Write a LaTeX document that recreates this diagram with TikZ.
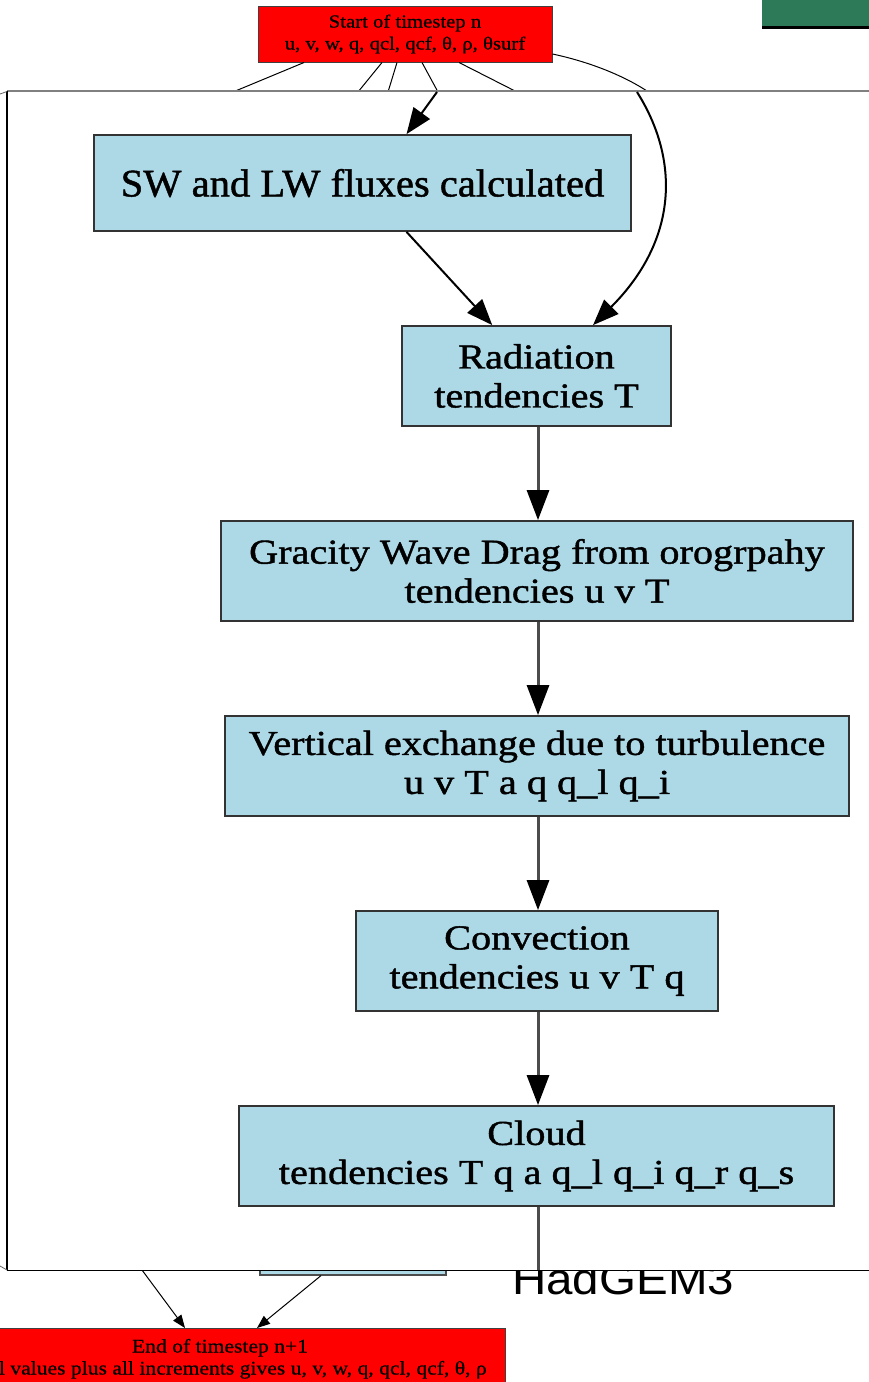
\documentclass[tikz,border=0pt]{standalone}
\usepackage{fontspec}
\setmainfont{Liberation Serif}
\newfontfamily\boxfont[FakeStretch=1.15,FakeBold=1.2]{Liberation Serif}
\newfontfamily\swfont[FakeStretch=1.04,FakeBold=1.2]{Liberation Serif}
\newfontfamily\redfont[FakeStretch=1.12,FakeBold=0.6]{Liberation Serif}
\newfontfamily\hadfont[FakeStretch=1.08]{Liberation Sans}
\usetikzlibrary{arrows.meta,calc}
\definecolor{lblue}{HTML}{ADD8E6}
\definecolor{hgreen}{RGB}{44,122,88}
\tikzset{
  procbox/.style={draw=black!80, line width=1.8pt, fill=lblue, inner sep=0pt, align=center,
    font=\boxfont\fontsize{35}{39}\selectfont},
  redbox/.style={draw=black!75, line width=1pt, fill=red, inner sep=0pt, align=center,
    font=\redfont\fontsize{18.5}{22}\selectfont},
  flowline/.style={draw=black!70, line width=3pt, -{Triangle[length=30pt,width=22pt,color=black]}},
  bigarrow/.style={draw=black, line width=2pt, -{Triangle[length=26pt,width=20pt,color=black]}},
  thinarrow/.style={draw=black, line width=1pt, -{Triangle[length=13pt,width=10pt]}},
  thinline/.style={draw=black, line width=1pt},
}
\begin{document}
\begin{tikzpicture}[x=1pt,y=-1pt]
\useasboundingbox (0,0) rectangle (869,1382);
\clip (0,0) rectangle (869,1382);
\fill[white] (0,0) rectangle (869,1382);
% background slide
\fill[hgreen] (762,0) rectangle (869,26);
\fill[black] (762,26) rectangle (869,29);
\node[redbox, minimum width=294pt, minimum height=56pt] (start) at (405,34)
  {Start of timestep n\\ u, v, w, q, qcl, qcf, θ, ρ, θsurf};
\coordinate (s1) at (233,92);
\coordinate (s2) at (358,92);
\coordinate (s3) at (388,92);
\coordinate (s4) at (438,92);
\coordinate (s5) at (517,92);
\coordinate (s6) at (650,93);
\draw[thinline] ([xshift=-101pt]start.south) -- (s1);
\draw[thinline] ([xshift=-23pt]start.south) -- (s2);
\draw[thinline] ([xshift=-8pt]start.south) -- (s3);
\draw[thinline] ([xshift=17pt]start.south) -- (s4);
\draw[thinline] ([xshift=54pt]start.south) -- (s5);
\draw[thinline] ([yshift=-20pt]start.east) .. controls (590,62) and (625,76) .. (s6);
\node[draw=black!70, line width=1.2pt, fill=lblue, minimum width=186pt, minimum height=35pt, inner sep=0pt] (lb) at (353,1257.5) {};
\node[font=\hadfont\fontsize{44}{44}\selectfont, anchor=base west, inner sep=0pt] (had) at (512,1294) {HadGEM3};
\node[redbox, font=\redfont\fontsize{19.3}{22}\selectfont, minimum width=570pt, minimum height=64pt, anchor=north] (end) at (220,1328)
  {\rule{0pt}{24pt}End of timestep n+1\\ Initial values plus all increments gives u, v, w, q, qcl, qcf, θ, ρ\\[4pt]};
\coordinate (b1) at (142,1270);
\draw[thinarrow] (b1) -- ([xshift=-35pt]end.north);
\draw[thinarrow] ([xshift=-32pt]lb.south) -- ([xshift=37pt]end.north);
% inset
\fill[white] (7,91) rectangle (880,1270);
\draw[black!50, line width=2.5pt] (7,91) -- (869,91);
\draw[black, line width=1.5pt] (7,91) -- (7,1270);
\draw[black, line width=1pt] (7,1270) -- (869,1270);
\draw[black!60, line width=0.8pt] (0,94) -- (7,91.5);
\draw[black!60, line width=0.8pt] (0,1266) -- (7,1270);
% inset content
\node[procbox, font=\swfont\fontsize{39}{43}\selectfont, minimum width=537pt, minimum height=96pt] (sw) at (362.5,183) {SW and LW fluxes calculated};
\node[procbox, minimum width=269pt, minimum height=100pt] (rad) at (536.5,376) {Radiation\\ tendencies T};
\node[procbox, minimum width=632pt, minimum height=100pt] (gwd) at (537,571) {Gracity Wave Drag from orogrpahy\\ tendencies u v T};
\node[procbox, minimum width=624pt, minimum height=100pt] (vex) at (537,766) {Vertical exchange due to turbulence\\ u v T a q q\_l q\_i};
\node[procbox, minimum width=362pt, minimum height=100pt] (conv) at (537,961) {Convection\\ tendencies u v T q};
\node[procbox, minimum width=595pt, minimum height=100pt] (cloud) at (536.5,1156) {Cloud\\ tendencies T q a q\_l q\_i q\_r q\_s};
\coordinate (i1) at (437,92);
\coordinate (i2) at (637,92);
\coordinate (i3) at (538,1270);
\draw[bigarrow] (i1) -- (sw.48.5);
\draw[bigarrow] (sw.-48.5) -- (rad.131);
\draw[bigarrow] (i2) .. controls (680,160) and (678,240) .. (rad.42);
\draw[flowline] (rad.south -| 538,0) -- (gwd.north -| 538,0);
\draw[flowline] (gwd.south -| 538,0) -- (vex.north -| 538,0);
\draw[flowline] (vex.south -| 538,0) -- (conv.north -| 538,0);
\draw[flowline] (conv.south -| 538,0) -- (cloud.north -| 538,0);
\draw[draw=black!70, line width=3pt] (cloud.south -| 538,0) -- (i3);
\end{tikzpicture}
\end{document}
